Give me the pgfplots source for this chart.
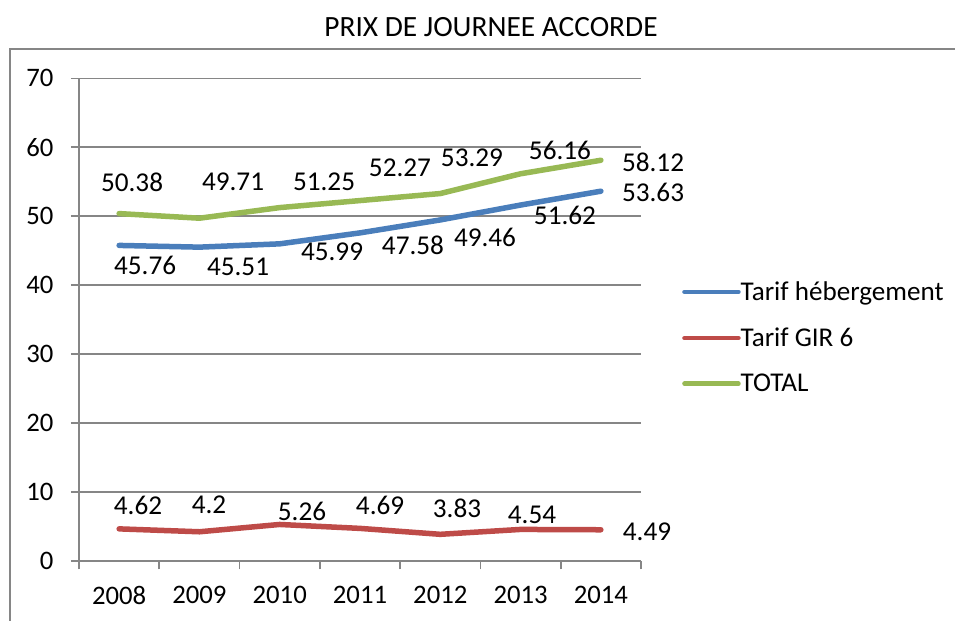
\documentclass[border=0pt]{standalone}
\usepackage{pgfplots}
\pgfplotsset{compat=1.18}
\usepackage{fontspec}
\setmainfont{Carlito}
\definecolor{axisgray}{HTML}{868686}
\definecolor{sblue}{HTML}{4A7EBB}
\definecolor{sred}{HTML}{BE4B48}
\definecolor{sgreen}{HTML}{98B954}
\newcommand\lab{\fontsize{27.3}{32}\selectfont}
\newcommand\tlab{\fontsize{26.8}{32}\selectfont}
\begin{document}
\begin{tikzpicture}
\begin{axis}[
  at={(79bp,-560.7bp)}, anchor=south west,
  scale only axis, width=562bp, height=482.3bp,
  xmin=-0.5, xmax=6.5, ymin=0, ymax=70,
  axis x line*=bottom, axis y line*=left,
  axis line style={draw=axisgray, line width=1.7bp, -},
  ytick={0,10,...,70},
  ymajorgrids, grid style={axisgray, line width=1.7bp},
  xtick={0,...,6}, xticklabels={2008,2009,2010,2011,2012,2013,2014},
  major x tick style={draw=none},
  minor xtick={-0.5,0.5,...,6.5},
  minor x tick style={draw=axisgray, line width=1.7bp},
  y tick style={draw=axisgray, line width=1.7bp},
  tick align=outside,
  major tick length=8bp, minor tick length=8.7bp,
  ticklabel style={font=\tlab},
  /pgf/number format/assume math mode=true,
  xticklabel style={yshift=-14bp},
  yticklabel style={xshift=-14bp},
  clip=false,
  legend style={draw=none, fill=none, at={(1.073,0.579)}, anchor=north west,
    font=\fontsize{27.2}{32}\selectfont, cells={anchor=west}, row sep=26bp,
    inner sep=0pt, nodes={inner sep=0pt},
    /tikz/every even column/.append style={column sep=4bp}},
  legend image code/.code={\draw[#1, line width=4.5bp, line cap=round] (0bp,0bp) -- (54bp,0bp);},
]
\addplot[sblue, line width=5.5bp, line cap=round, line join=round] coordinates {(0,45.76)(1,45.51)(2,45.99)(3,47.58)(4,49.46)(5,51.62)(6,53.63)};
\addlegendentry{Tarif hébergement}
\addplot[sred, line width=5.5bp, line cap=round, line join=round] coordinates {(0,4.62)(1,4.2)(2,5.26)(3,4.69)(4,3.83)(5,4.54)(6,4.49)};
\addlegendentry{Tarif GIR 6}
\addplot[sgreen, line width=5.5bp, line cap=round, line join=round] coordinates {(0,50.38)(1,49.71)(2,51.25)(3,52.27)(4,53.29)(5,56.16)(6,58.12)};
\addlegendentry{TOTAL}
% data labels
\node[font=\lab] at (axis cs:0.161,54.96) {50.38};
\node[font=\lab] at (axis cs:1.419,54.96) {49.71};
\node[font=\lab] at (axis cs:2.552,54.96) {51.25};
\node[font=\lab] at (axis cs:3.498,56.99) {52.27};
\node[font=\lab] at (axis cs:4.395,58.45) {53.29};
\node[font=\lab] at (axis cs:5.491,59.62) {56.16};
\node[font=\lab] at (axis cs:6.650,57.88) {58.12};
\node[font=\lab] at (axis cs:0.323,42.92) {45.76};
\node[font=\lab] at (axis cs:1.481,42.63) {45.51};
\node[font=\lab] at (axis cs:2.652,44.81) {45.99};
\node[font=\lab] at (axis cs:3.660,45.82) {47.58};
\node[font=\lab] at (axis cs:4.557,46.98) {49.46};
\node[font=\lab] at (axis cs:5.553,50.17) {51.62};
\node[font=\lab] at (axis cs:6.650,53.51) {53.63};
\node[font=\lab] at (axis cs:0.235,8.08) {4.62};
\node[font=\lab] at (axis cs:1.120,8.08) {4.2};
\node[font=\lab] at (axis cs:2.278,7.21) {5.26};
\node[font=\lab] at (axis cs:3.250,8.08) {4.69};
\node[font=\lab] at (axis cs:4.208,7.65) {3.83};
\node[font=\lab] at (axis cs:5.143,6.63) {4.54};
\node[font=\lab] at (axis cs:6.575,4.16) {4.49};
\end{axis}
\draw[axisgray, line width=2bp] (10bp,-630bp) -- (10bp,-49bp) -- (970bp,-49bp);
\node[font=\fontsize{29.5}{35}\selectfont] at (491bp,-27bp) {PRIX DE JOURNEE ACCORDE};
\pgfresetboundingbox
\useasboundingbox (0bp,0bp) rectangle (955bp,-621bp);
\end{tikzpicture}
\end{document}
